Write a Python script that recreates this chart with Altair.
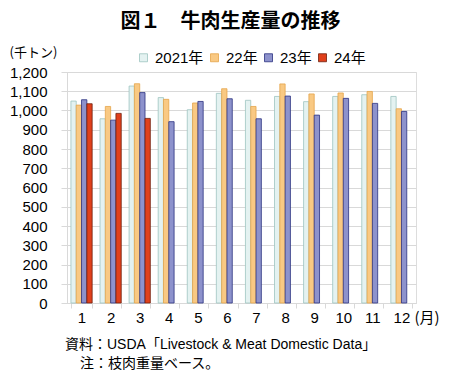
import altair as alt
import pandas as pd

months = [str(i) for i in range(1, 13)]
years = ["2021年", "22年", "23年", "24年"]
v2021 = [1049, 957, 1127, 1067, 1004, 1089, 1053, 1073, 1046, 1073, 1082, 1073]
v2022 = [1028, 1021, 1139, 1058, 1039, 1113, 1021, 1138, 1086, 1091, 1099, 1009]
v2023 = [1056, 950, 1093, 942, 1047, 1061, 957, 1075, 976, 1063, 1037, 995]
v2024 = [1035, 985, 959]

rows = []
for yr, vals in zip(years, [v2021, v2022, v2023, v2024]):
    for m, v in zip(months, vals):
        rows.append({"month": m, "year": yr, "value": v})
df = pd.DataFrame(rows)

fills = ["#E4F2F1", "#F9C983", "#8D92CC", "#E0401B"]
strokes = ["#9DC4C0", "#E5A54A", "#2B3180", "#6E1F0E"]

font = "Liberation Sans, Arial, Noto Sans CJK JP, sans-serif"
jfont = "Noto Sans CJK JP, sans-serif"

legend = alt.Legend(
    title=None, orient="none", legendX=69, legendY=-22, direction="horizontal",
    symbolType="square", symbolSize=64, symbolStrokeWidth=0.8,
    labelFont=font, labelFontSize=15, labelColor="black",
    labelOffset=4, columnPadding=3,
)

bars = alt.Chart(df).mark_bar(strokeWidth=0.8).encode(
    x=alt.X(
        "month:N", sort=months,
        scale=alt.Scale(paddingInner=0.27, paddingOuter=0.135),
        axis=alt.Axis(
            title="(月)", titleX=347, titleY=14, titleAlign="left",
            titleBaseline="middle", titleAngle=0, titleFont=jfont,
            titleFontSize=15, titleFontWeight="normal", titleColor="black",
            labelAngle=0, labelFont=font, labelFontSize=15, labelColor="black",
            labelPadding=2, tickBand="extent", tickSize=5,
            domainColor="#D9D9D9", tickColor="#D9D9D9", grid=False,
        ),
    ),
    xOffset=alt.XOffset("year:N", sort=years,
                        scale=alt.Scale(domain=years, paddingInner=0, paddingOuter=0)),
    y=alt.Y(
        "value:Q", scale=alt.Scale(domain=[0, 1200]),
        axis=alt.Axis(
            values=list(range(0, 1201, 100)), format=",d",
            title="(千トン)", titleX=-58, titleY=-20, titleAngle=0,
            titleAlign="left", titleBaseline="middle", titleFont=jfont,
            titleFontSize=13, titleFontWeight="normal", titleColor="black",
            labelFont=font, labelFontSize=15, labelColor="black", labelPadding=14,
            tickSize=6, tickColor="#D9D9D9", domainColor="#D9D9D9",
            gridColor="#D9D9D9", gridWidth=1,
        ),
    ),
    fill=alt.Fill("year:N", sort=years, scale=alt.Scale(domain=years, range=fills), legend=legend),
    stroke=alt.Stroke("year:N", sort=years, scale=alt.Scale(domain=years, range=strokes), legend=legend),
)

note1_df = pd.DataFrame({"t": ["資料：USDA「Livestock & Meat Domestic Data」"]})
note1 = alt.Chart(note1_df).mark_text(
    font=font, fontSize=14, align="left", baseline="middle", color="black"
).encode(text="t:N", x=alt.value(-2), y=alt.value(273))

note2_df = pd.DataFrame({"t": ["注：枝肉重量ベース。"]})
note2 = alt.Chart(note2_df).mark_text(
    font=font, fontSize=14, align="left", baseline="middle", color="black"
).encode(text="t:N", x=alt.value(13), y=alt.value(292))

chart = alt.layer(bars, note1, note2).properties(
    title=alt.Title(
        "図１　牛肉生産量の推移", font=jfont, fontSize=20, fontWeight="bold",
        color="black", anchor="middle", frame="group", dx=-11, offset=14,
    ),
    width=349, height=231,
    padding={"left": 59, "top": 64, "right": 26, "bottom": 69},
    autosize="none",
).configure_view(stroke=None).configure(background="white")

chart.save("out.html", embed_options={"renderer": "svg", "actions": False})
